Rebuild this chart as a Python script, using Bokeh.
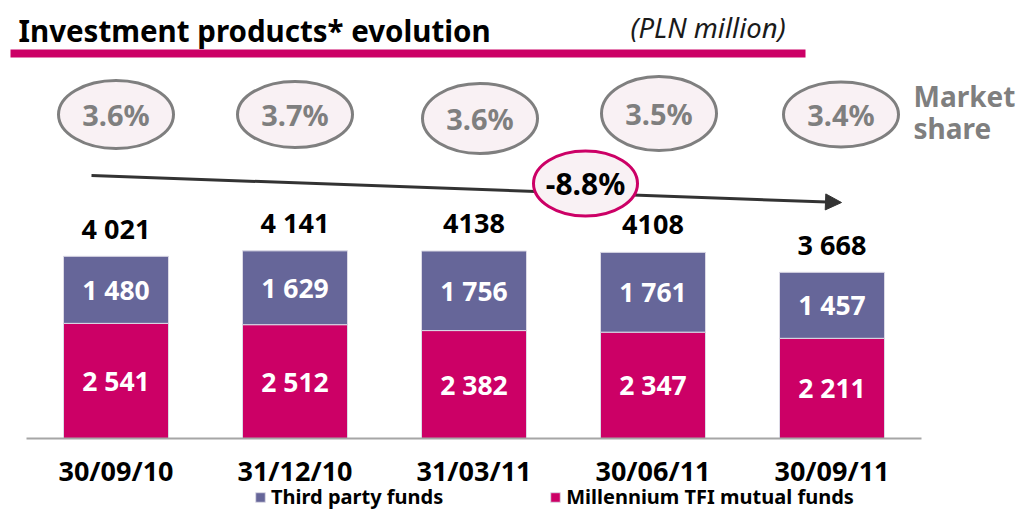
from bokeh.plotting import figure
from bokeh.models import (ColumnDataSource, Range1d, Legend, LegendItem,
                          Label, Arrow, NormalHead, BoxAnnotation)
from bokeh.core.properties import value
from bokeh.embed import file_html
from bokeh.resources import INLINE

# ---------------- data ----------------
dates = ["30/09/10", "31/12/10", "31/03/11", "30/06/11", "30/09/11"]
millennium = [2541, 2512, 2382, 2347, 2211]
third_party = [1480, 1629, 1756, 1761, 1457]
totals = [4021, 4141, 4138, 4108, 3668]
total_labels = ["4 021", "4 141", "4138", "4108", "3 668"]
millennium_labels = ["2 541", "2 512", "2 382", "2 347", "2 211"]
third_labels = ["1 480", "1 629", "1 756", "1 761", "1 457"]
market_share = [3.6, 3.7, 3.6, 3.5, 3.4]

# ---------------- layout ----------------
W, H = 1018, 510
PX = 179.0          # pixels per category
C0 = 115.5          # canvas x of first category centre
UPP = 22.07         # value units per pixel
BASE = 438          # canvas y (from top) of baseline
FONT = "Noto Sans"
MAGENTA = "#CC0066"
PURPLE = "#666699"
GRAY = "#7F7F7F"
PINK = "#F9F1F4"

def X(px):
    return (px - C0) / PX

def Y(py):
    return (BASE - py) * UPP

ms_dx = [0, 0, 6, 6, 9]                 # pixel offsets of share ellipses
ms_cy = [114, 114, 118, 113, 114]       # y of share ellipses
ms_h = [68, 66, 70, 74, 65]

n = len(dates)
xs = list(range(n))

src = ColumnDataSource(dict(
    x=xs,
    mil=millennium,
    third=third_party,
    tot=totals,
    tot_lab=total_labels,
    mil_lab=millennium_labels,
    third_lab=third_labels,
    date=dates,
    mil_mid=[m / 2 for m in millennium],
    third_mid=[m + t / 2 for m, t in zip(millennium, third_party)],
    ms_x=[i + d / PX for i, d in zip(xs, ms_dx)],
    ms_y=[Y(c) for c in ms_cy],
    ms_h=ms_h,
    ms_lab=[f"{v:.1f}%" for v in market_share],
))

p = figure(width=W, height=H, output_backend="svg", toolbar_location=None,
           x_range=Range1d(-C0 / PX, (W - C0) / PX),
           y_range=Range1d(-(H - BASE) * UPP, BASE * UPP),
           x_axis_location=None, y_axis_location=None,
           min_border_left=0, min_border_right=0, min_border_top=0,
           min_border_bottom=0)
p.outline_line_color = None
p.grid.visible = False
p.background_fill_color = "white"

# title & underline
p.add_layout(BoxAnnotation(left=X(10), right=X(805), bottom=Y(57), top=Y(49),
                           fill_color=MAGENTA, fill_alpha=1, line_color=None,
                           level="underlay"))
p.add_layout(Label(x=X(18), y=Y(30), text="Investment products* evolution",
                   text_font=FONT, text_font_style="bold", text_font_size="29.5px",
                   text_baseline="middle", text_color="#000000"))
p.add_layout(Label(x=X(630), y=Y(27), text="(PLN million)",
                   text_font=FONT, text_font_style="italic", text_font_size="27.5px",
                   text_baseline="middle", text_color="#1a1a1a"))
p.add_layout(Label(x=X(913), y=Y(95), text="Market", text_font=FONT,
                   text_font_style="bold", text_font_size="28px",
                   text_baseline="middle", text_color=GRAY))
p.add_layout(Label(x=X(913), y=Y(127), text="share", text_font=FONT,
                   text_font_style="bold", text_font_size="28px",
                   text_baseline="middle", text_color=GRAY))

# bars
rs = p.vbar_stack(["mil", "third"], x="x", width=105 / PX, source=src,
                  color=[MAGENTA, PURPLE], line_color="#DCDAE6", line_width=1)
r_mil, r_third = rs

# baseline
p.segment(x0=[-0.5], x1=[n - 0.5], y0=[0], y1=[0], line_color="#A6A6A6", line_width=2)

# category labels (x axis)
p.text(x="x", y=Y(470), text="date", source=src, text_align="center",
       text_baseline="middle", text_color="black", text_font=value(FONT),
       text_font_style="bold", text_font_size="27px")

# labels on bars
p.text(x="x", y="mil_mid", text="mil_lab", source=src, text_align="center",
       text_baseline="middle", text_color="white", text_font=value(FONT),
       text_font_style="bold", text_font_size="26.5px")
p.text(x="x", y="third_mid", text="third_lab", source=src, text_align="center",
       text_baseline="middle", text_color="white", text_font=value(FONT),
       text_font_style="bold", text_font_size="26.5px")
p.text(x="x", y="tot", text="tot_lab", source=src, text_align="center",
       text_baseline="middle", text_color="black", text_font=value(FONT),
       text_font_style="bold", text_font_size="27px", y_offset=-28)

# market share ellipses
p.ellipse(x="ms_x", y="ms_y", width=115, height="ms_h", width_units="screen",
          height_units="screen", source=src, fill_color=PINK, line_color=GRAY,
          line_width=3)
p.text(x="ms_x", y="ms_y", text="ms_lab", source=src, text_align="center",
       text_baseline="middle", text_color=GRAY, text_font=value(FONT),
       text_font_style="bold", text_font_size="29px")

# trend arrow and change bubble
arrow = Arrow(x_start=X(91), y_start=Y(175), x_end=X(841), y_end=Y(202),
              line_color="#333333", line_width=3, level="underlay",
              end=NormalHead(size=16, fill_color="#333333", line_color="#333333"))
p.add_layout(arrow)
change = (totals[-1] / totals[0] - 1) * 100
p.ellipse(x=[X(585)], y=[Y(183)], width=104, height=65, width_units="screen",
          height_units="screen", fill_color=PINK, line_color=MAGENTA, line_width=3)
p.text(x=[X(585)], y=[Y(183)], text=[f"{change:.1f}%"], text_align="center",
       text_baseline="middle", text_color="black", text_font=value(FONT),
       text_font_style="bold", text_font_size="30px")

# legend
legend = Legend(items=[LegendItem(label="Third party funds", renderers=[r_third]),
                       LegendItem(label="Millennium TFI mutual funds", renderers=[r_mil])],
                orientation="horizontal", location=(254, 0),
                glyph_width=12, glyph_height=12, label_standoff=5, spacing=106,
                padding=0, margin=0, border_line_color=None, background_fill_alpha=0,
                label_text_font=FONT, label_text_font_style="bold",
                label_text_font_size="20px", label_text_color="black")
p.add_layout(legend)

open("out.html", "w").write(file_html(p, INLINE))
